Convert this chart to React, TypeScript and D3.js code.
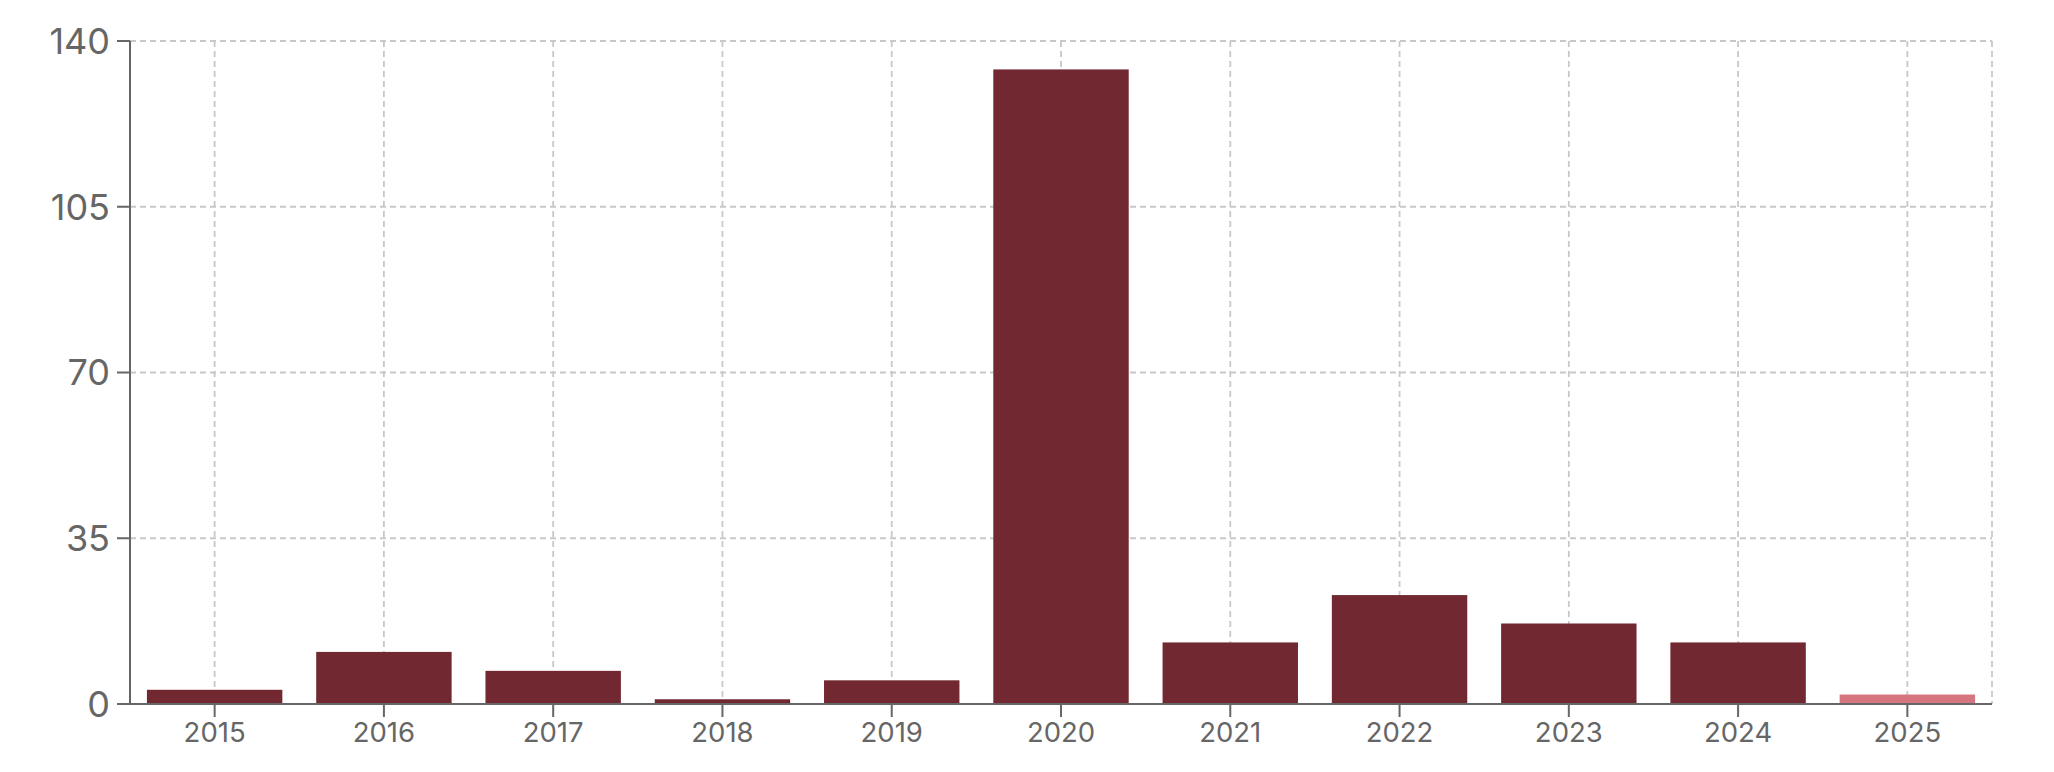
import React from "react";
import * as d3 from "d3";

const years = ["2015", "2016", "2017", "2018", "2019", "2020", "2021", "2022", "2023", "2024", "2025"];
const counts = [3, 11, 7, 1, 5, 134, 13, 23, 17, 13, 2];
const highlightYears = ["2025"];
const yTicks = [0, 35, 70, 105, 140];

const W = 2054;
const H = 772;
const M = { left: 130, top: 41, right: 62, bottom: 68 };

export default function App() {
  const x = d3
    .scaleBand<string>()
    .domain(years)
    .range([M.left, W - M.right])
    .paddingInner(0.2)
    .paddingOuter(0.1);
  const y = d3.scaleLinear().domain([0, 140]).range([H - M.bottom, M.top]);
  const font = "Inter, 'Helvetica Neue', Arial, sans-serif";
  const axisColor = "#666";
  const gridColor = "#c8c8c8";
  const x0 = M.left;
  const x1 = W - M.right;
  const yb = y(0);

  return (
    <svg
      width={W}
      height={H}
      style={{ position: "absolute", left: 0, top: 0, background: "#fff" }}
    >
      {/* horizontal grid */}
      {yTicks
        .filter((t) => t !== 0)
        .map((t) => (
          <line
            key={"hg" + t}
            x1={x0}
            x2={x1}
            y1={y(t)}
            y2={y(t)}
            stroke={gridColor}
            strokeWidth={1.8}
            strokeDasharray="6,4"
          />
        ))}
      {/* vertical grid */}
      {years.map((yr) => {
        const cx = (x(yr) as number) + x.bandwidth() / 2;
        return (
          <line
            key={"vg" + yr}
            x1={cx}
            x2={cx}
            y1={y(140)}
            y2={yb}
            stroke={gridColor}
            strokeWidth={1.8}
            strokeDasharray="6,4"
          />
        );
      })}
      <line x1={x1} x2={x1} y1={y(140)} y2={yb} stroke={gridColor} strokeWidth={1.8} strokeDasharray="6,4" />

      {/* bars */}
      {years.map((yr, i) => (
        <rect
          key={"b" + yr}
          x={x(yr)}
          y={y(counts[i])}
          width={x.bandwidth()}
          height={yb - y(counts[i])}
          fill={highlightYears.includes(yr) ? "#d47580" : "#722830"}
        />
      ))}

      {/* x axis */}
      <line x1={x0} x2={x1} y1={yb} y2={yb} stroke={axisColor} strokeWidth={2} />
      {years.map((yr) => {
        const cx = (x(yr) as number) + x.bandwidth() / 2;
        return (
          <g key={"xt" + yr}>
            <line x1={cx} x2={cx} y1={yb} y2={yb + 13} stroke={axisColor} strokeWidth={2} />
            <text
              x={cx}
              y={yb + 38}
              textAnchor="middle"
              fontFamily={font}
              fontSize={27.5}
              fill={axisColor}
            >
              {yr}
            </text>
          </g>
        );
      })}

      {/* y axis */}
      <line x1={x0} x2={x0} y1={y(140)} y2={yb} stroke={axisColor} strokeWidth={2} />
      {yTicks.map((t) => (
        <g key={"yt" + t}>
          <line x1={x0 - 13} x2={x0} y1={y(t)} y2={y(t)} stroke={axisColor} strokeWidth={2} />
          <text
            x={x0 - 20}
            y={y(t)}
            dy="0.36em"
            textAnchor="end"
            fontFamily={font}
            fontSize={36}
            fill={axisColor}
          >
            {t}
          </text>
        </g>
      ))}
    </svg>
  );
}
